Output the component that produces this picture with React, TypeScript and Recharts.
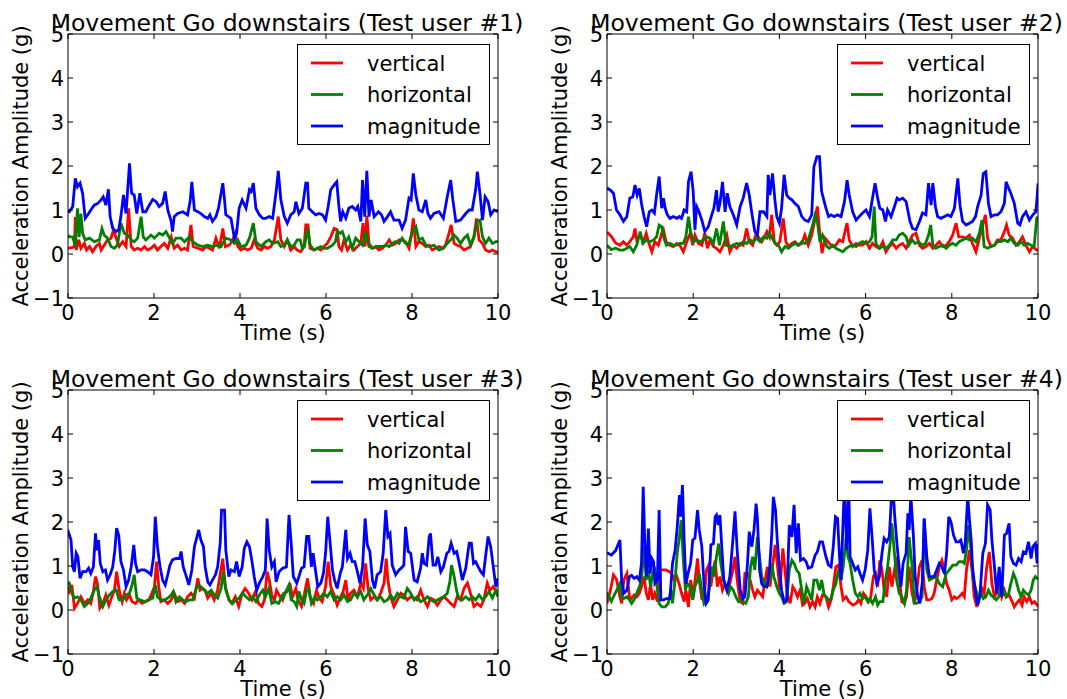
import React from 'react';
import { LineChart, Line, XAxis, YAxis } from 'recharts';

type P = [number, number];

const timeTicks = [0, 2, 4, 6, 8, 10];
const ampTicks = [-1, 0, 1, 2, 3, 4, 5];
const seriesNames = ['vertical', 'horizontal', 'magnitude'];
const seriesColors = ['#ff0000', '#008000', '#0000ff'];
const panelTitles = [
  'Movement Go downstairs (Test user #1)',
  'Movement Go downstairs (Test user #2)',
  'Movement Go downstairs (Test user #3)',
  'Movement Go downstairs (Test user #4)',
];
const xLabel = 'Time (s)';
const yLabel = 'Acceleration Amplitude (g)';

// ---------- Test user #1 ----------
const u1Vertical: P[] = [[0,0.13],[0.11,0.15],[0.15,0.17],[0.17,0.84],[0.19,0.09],[0.25,0.32],[0.30,0.13],[0.38,0.24],[0.43,0.09],[0.50,0.17],[0.57,0.05],[0.65,0.17],[0.73,0.24],[0.77,0.09],[0.84,0.2],[0.92,0.32],[1.00,0.36],[1.06,0.55],[1.12,0.36],[1.19,0.17],[1.27,0.28],[1.35,0.17],[1.41,1.04],[1.47,0.17],[1.54,0.09],[1.62,0.13],[1.70,0.09],[1.78,0.17],[1.85,0.09],[1.93,0.13],[2.01,0.2],[2.08,0.09],[2.16,0.17],[2.24,0.24],[2.32,0.13],[2.40,0.39],[2.47,0.13],[2.55,0.2],[2.63,0.09],[2.71,0.13],[2.78,0.09],[2.86,0.66],[2.91,0.17],[3.02,0.13],[3.13,0.09],[3.21,0.17],[3.29,0.13],[3.36,0.09],[3.44,0.36],[3.52,0.13],[3.60,0.58],[3.66,0.17],[3.75,0.2],[3.83,0.32],[3.89,0.47],[3.95,0.17],[4.02,0.09],[4.10,0.13],[4.18,0.09],[4.26,0.13],[4.33,0.32],[4.41,0.13],[4.49,0.09],[4.57,0.17],[4.64,0.13],[4.72,0.17],[4.80,0.32],[4.89,0.85],[4.95,0.32],[5.03,0.17],[5.10,0.32],[5.18,0.09],[5.26,0.17],[5.33,0.09],[5.41,0.05],[5.49,0.17],[5.53,0.66],[5.58,0.66],[5.63,0.13],[5.72,0.09],[5.80,0.13],[5.88,0.09],[5.95,0.17],[6.03,0.24],[6.11,0.39],[6.19,0.58],[6.26,0.55],[6.30,0.17],[6.36,0.09],[6.42,0.32],[6.50,0.09],[6.57,0.2],[6.65,0.09],[6.73,0.17],[6.81,0.24],[6.86,0.70],[6.91,0.17],[6.95,0.87],[7.00,0.24],[7.08,0.13],[7.16,0.17],[7.23,0.09],[7.31,0.13],[7.39,0.2],[7.47,0.32],[7.54,0.2],[7.62,0.24],[7.70,0.32],[7.77,0.32],[7.85,0.28],[7.93,0.13],[7.98,0.39],[8.03,0.81],[8.09,0.17],[8.16,0.28],[8.24,0.24],[8.32,0.17],[8.40,0.2],[8.47,0.09],[8.55,0.13],[8.63,0.17],[8.71,0.13],[8.78,0.2],[8.86,0.47],[8.91,0.66],[8.98,0.24],[9.05,0.2],[9.13,0.17],[9.21,0.09],[9.29,0.13],[9.36,0.17],[9.44,0.39],[9.50,0.81],[9.56,0.32],[9.64,0.24],[9.71,0.09],[9.79,0.05],[9.87,0.09],[9.95,0.05],[10,0.05]];
const u1Horizontal: P[] = [[0,0.43],[0.03,0.39],[0.11,0.39],[0.17,0.17],[0.22,1.04],[0.26,0.39],[0.30,0.92],[0.34,0.47],[0.40,0.32],[0.50,0.36],[0.61,0.28],[0.73,0.32],[0.79,0.58],[0.84,0.43],[0.92,0.36],[1.00,0.17],[1.08,0.13],[1.15,0.2],[1.23,0.70],[1.31,0.47],[1.39,0.43],[1.47,0.32],[1.54,0.28],[1.62,0.36],[1.70,0.85],[1.75,0.39],[1.81,0.32],[1.93,0.43],[2.01,0.36],[2.12,0.47],[2.20,0.43],[2.28,0.51],[2.36,0.36],[2.43,0.24],[2.51,0.36],[2.63,0.36],[2.71,0.28],[2.82,0.39],[2.90,0.28],[3.02,0.2],[3.13,0.17],[3.25,0.2],[3.36,0.17],[3.48,0.2],[3.56,0.17],[3.67,0.36],[3.79,0.32],[3.87,0.24],[3.95,0.32],[4.02,0.17],[4.14,0.2],[4.22,0.36],[4.31,0.70],[4.37,0.28],[4.49,0.17],[4.60,0.28],[4.68,0.32],[4.76,0.24],[4.88,0.28],[4.95,0.17],[5.03,0.2],[5.10,0.32],[5.18,0.17],[5.26,0.2],[5.33,0.32],[5.40,0.32],[5.45,0.13],[5.50,0.17],[5.57,0.58],[5.63,0.2],[5.72,0.09],[5.80,0.13],[5.88,0.17],[5.95,0.13],[6.03,0.13],[6.15,0.2],[6.22,0.28],[6.26,0.51],[6.33,0.47],[6.38,0.51],[6.46,0.28],[6.53,0.39],[6.61,0.13],[6.69,0.36],[6.77,0.28],[6.85,0.2],[6.92,0.51],[7.00,0.17],[7.08,0.13],[7.19,0.17],[7.31,0.17],[7.39,0.2],[7.47,0.17],[7.54,0.24],[7.62,0.28],[7.70,0.24],[7.77,0.36],[7.85,0.24],[7.93,0.24],[8.01,0.51],[8.09,0.62],[8.16,0.32],[8.24,0.36],[8.32,0.2],[8.40,0.17],[8.51,0.2],[8.63,0.09],[8.73,0.13],[8.82,0.24],[8.90,0.32],[8.98,0.43],[9.05,0.36],[9.13,0.24],[9.21,0.36],[9.29,0.43],[9.36,0.2],[9.44,0.39],[9.52,0.74],[9.58,0.77],[9.64,0.39],[9.71,0.24],[9.79,0.36],[9.87,0.24],[9.95,0.28],[10,0.28]];
const u1Magnitude: P[] = [[0,0.96],[0.03,0.96],[0.11,1.08],[0.17,1.72],[0.22,1.53],[0.28,1.61],[0.34,1.38],[0.40,0.81],[0.46,0.89],[0.53,1.00],[0.61,1.11],[0.69,1.15],[0.77,1.23],[0.82,1.30],[0.88,1.11],[0.94,1.47],[0.98,0.85],[1.04,0.58],[1.12,0.51],[1.18,0.55],[1.23,0.85],[1.29,1.34],[1.35,0.92],[1.43,2.06],[1.48,1.38],[1.54,1.34],[1.60,0.92],[1.67,1.38],[1.74,0.96],[1.81,0.96],[1.89,1.11],[1.97,1.24],[2.05,1.19],[2.12,1.08],[2.20,1.15],[2.26,1.42],[2.32,1.00],[2.40,0.74],[2.43,0.51],[2.47,0.85],[2.55,0.92],[2.67,0.96],[2.78,0.89],[2.84,1.19],[2.88,1.64],[2.94,1.00],[3.02,0.96],[3.09,0.92],[3.17,0.85],[3.25,0.81],[3.30,0.89],[3.36,0.74],[3.44,0.85],[3.50,1.04],[3.56,1.38],[3.60,1.61],[3.64,1.23],[3.67,0.89],[3.79,0.81],[3.87,0.36],[3.92,0.47],[3.98,1.04],[4.05,1.23],[4.14,1.04],[4.22,1.46],[4.26,1.42],[4.31,1.61],[4.37,1.04],[4.45,0.89],[4.53,0.81],[4.60,0.81],[4.68,0.85],[4.76,0.81],[4.84,1.42],[4.89,1.89],[4.95,1.23],[5.03,0.85],[5.10,0.70],[5.18,0.89],[5.26,0.96],[5.30,1.19],[5.37,0.92],[5.45,1.04],[5.53,1.61],[5.57,1.61],[5.60,1.04],[5.68,0.96],[5.76,0.89],[5.84,0.92],[5.92,0.89],[5.99,0.77],[6.05,1.08],[6.11,1.46],[6.19,1.57],[6.25,1.64],[6.30,1.08],[6.34,0.74],[6.39,0.96],[6.46,0.81],[6.53,1.04],[6.61,1.08],[6.69,1.00],[6.74,1.08],[6.81,0.74],[6.85,1.68],[6.90,0.85],[6.95,1.89],[7.00,0.85],[7.05,1.23],[7.12,0.85],[7.22,0.96],[7.29,0.89],[7.35,0.74],[7.43,0.85],[7.50,0.96],[7.58,0.77],[7.70,0.77],[7.77,0.58],[7.85,0.77],[7.93,1.27],[7.98,1.23],[8.03,1.83],[8.09,1.34],[8.16,1.00],[8.24,0.96],[8.32,1.23],[8.37,0.92],[8.43,0.81],[8.51,0.92],[8.63,0.96],[8.73,0.81],[8.82,1.30],[8.90,1.68],[8.95,1.23],[9.02,0.74],[9.13,0.77],[9.25,0.92],[9.33,1.00],[9.40,1.00],[9.48,1.46],[9.52,1.87],[9.58,1.38],[9.64,0.77],[9.70,1.30],[9.77,1.19],[9.83,0.89],[9.91,1.00],[10,0.96]];

// ---------- Test user #2 ----------
const u2Vertical: P[] = [[0,0.5],[0.1,0.4],[0.2,0.25],[0.30,0.20],[0.38,0.28],[0.46,0.20],[0.53,0.28],[0.61,0.39],[0.65,0.58],[0.69,0.32],[0.77,0.43],[0.84,0.28],[0.91,0.47],[0.96,0.28],[1.04,0.05],[1.11,0.28],[1.19,0.20],[1.27,0.47],[1.31,0.55],[1.37,0.28],[1.46,0.20],[1.54,0.17],[1.62,0.24],[1.69,0.20],[1.77,0.05],[1.85,0.28],[1.93,0.47],[1.99,0.20],[2.04,0.43],[2.12,0.24],[2.20,0.20],[2.27,0.47],[2.33,0.13],[2.39,0.32],[2.47,0.17],[2.54,0.13],[2.62,0.05],[2.70,0.20],[2.78,0.43],[2.85,0.05],[2.93,0.20],[3.01,0.13],[3.09,0.24],[3.16,0.20],[3.24,0.58],[3.30,0.28],[3.38,0.20],[3.46,0.47],[3.51,0.39],[3.59,0.28],[3.64,0.36],[3.71,0.51],[3.77,0.39],[3.82,0.89],[3.88,0.28],[3.94,0.20],[4.01,0.28],[4.09,0.81],[4.15,0.28],[4.21,0.17],[4.29,0.24],[4.36,0.28],[4.44,0.20],[4.52,0.24],[4.59,0.43],[4.67,0.20],[4.75,0.43],[4.83,0.81],[4.88,1.08],[4.94,0.43],[4.99,0.02],[5.06,0.36],[5.16,0.24],[5.24,0.17],[5.31,0.20],[5.39,0.32],[5.47,0.28],[5.53,0.55],[5.57,0.70],[5.62,0.32],[5.70,0.17],[5.78,0.24],[5.85,0.20],[5.93,0.20],[6.01,0.28],[6.09,0.13],[6.16,0.24],[6.24,0.17],[6.32,0.13],[6.40,0.28],[6.47,0.05],[6.55,0.17],[6.63,0.24],[6.71,0.13],[6.78,0.20],[6.86,0.24],[6.94,0.13],[7.01,0.28],[7.09,0.43],[7.17,0.47],[7.25,0.20],[7.32,0.13],[7.40,0.17],[7.48,0.24],[7.56,0.13],[7.63,0.20],[7.71,0.28],[7.79,0.17],[7.87,0.20],[7.94,0.28],[8.02,0.43],[8.10,0.70],[8.16,0.39],[8.25,0.39],[8.33,0.36],[8.41,0.43],[8.48,0.24],[8.56,0.05],[8.64,0.36],[8.72,0.66],[8.78,0.89],[8.83,0.36],[8.91,0.17],[8.99,0.20],[9.06,0.32],[9.14,0.32],[9.22,0.51],[9.27,0.66],[9.33,0.43],[9.41,0.36],[9.49,0.20],[9.57,0.28],[9.64,0.39],[9.72,0.20],[9.80,0.05],[9.88,0.17],[9.97,0.09],[10,0.09]];
const u2Horizontal: P[] = [[0,0.2],[0.1,0.1],[0.2,0.13],[0.30,0.09],[0.38,0.09],[0.46,0.13],[0.53,0.17],[0.61,0.05],[0.69,0.20],[0.77,0.51],[0.83,0.24],[0.91,0.32],[1.00,0.28],[1.08,0.32],[1.15,0.39],[1.21,0.66],[1.27,0.62],[1.32,0.36],[1.38,0.20],[1.46,0.24],[1.54,0.20],[1.62,0.20],[1.69,0.24],[1.77,0.24],[1.83,0.39],[1.89,0.85],[1.94,0.51],[2.00,0.28],[2.08,0.32],[2.16,0.28],[2.24,0.32],[2.31,0.39],[2.39,0.36],[2.47,0.24],[2.54,0.58],[2.61,0.20],[2.70,0.74],[2.76,0.20],[2.84,0.17],[2.93,0.20],[3.01,0.24],[3.09,0.20],[3.16,0.28],[3.24,0.24],[3.32,0.32],[3.40,0.28],[3.47,0.36],[3.55,0.28],[3.63,0.39],[3.71,0.36],[3.77,0.47],[3.82,0.39],[3.90,0.24],[3.98,0.20],[4.05,0.05],[4.13,0.17],[4.21,0.13],[4.29,0.20],[4.36,0.24],[4.44,0.20],[4.52,0.28],[4.59,0.24],[4.67,0.32],[4.75,0.58],[4.83,0.89],[4.88,0.74],[4.94,0.28],[5.00,0.43],[5.06,0.28],[5.10,0.17],[5.16,0.13],[5.24,0.20],[5.31,0.13],[5.39,0.09],[5.47,0.05],[5.55,0.13],[5.62,0.17],[5.70,0.20],[5.78,0.17],[5.85,0.24],[5.93,0.28],[6.01,0.24],[6.09,0.28],[6.15,0.39],[6.20,1.08],[6.24,0.24],[6.32,0.13],[6.40,0.17],[6.47,0.13],[6.55,0.20],[6.63,0.32],[6.71,0.32],[6.78,0.43],[6.86,0.47],[6.94,0.39],[7.00,0.20],[7.08,0.32],[7.15,0.24],[7.23,0.28],[7.31,0.20],[7.39,0.24],[7.46,0.43],[7.51,0.66],[7.56,0.20],[7.63,0.13],[7.71,0.17],[7.79,0.20],[7.87,0.13],[7.94,0.20],[8.02,0.24],[8.10,0.20],[8.17,0.28],[8.25,0.32],[8.33,0.36],[8.41,0.32],[8.48,0.36],[8.56,0.28],[8.64,0.47],[8.70,0.77],[8.75,0.17],[8.83,0.13],[8.91,0.17],[8.99,0.20],[9.06,0.28],[9.14,0.28],[9.22,0.32],[9.30,0.28],[9.37,0.36],[9.45,0.24],[9.53,0.20],[9.61,0.28],[9.68,0.20],[9.76,0.24],[9.84,0.20],[9.91,0.17],[9.97,0.81],[10,0.85]];
const u2Magnitude: P[] = [[0,1.5],[0.08,1.45],[0.15,1.38],[0.22,1.0],[0.30,0.89],[0.38,0.74],[0.46,0.85],[0.53,1.27],[0.60,1.30],[0.65,1.57],[0.70,1.34],[0.75,1.49],[0.80,1.15],[0.86,0.85],[0.92,0.62],[0.98,0.96],[1.04,1.00],[1.10,0.93],[1.15,1.34],[1.21,1.76],[1.27,1.04],[1.31,1.27],[1.35,1.04],[1.40,0.89],[1.46,0.81],[1.54,0.85],[1.62,0.81],[1.68,0.85],[1.73,0.81],[1.79,1.00],[1.85,0.96],[1.89,1.64],[1.95,1.87],[2.00,1.42],[2.04,0.55],[2.08,1.08],[2.12,1.00],[2.20,0.77],[2.27,0.51],[2.35,0.62],[2.43,0.89],[2.48,1.04],[2.54,1.45],[2.58,0.96],[2.62,1.15],[2.68,1.64],[2.74,0.96],[2.79,1.38],[2.85,1.08],[2.93,0.89],[3.01,0.66],[3.09,1.08],[3.16,1.27],[3.24,1.61],[3.30,1.34],[3.36,0.93],[3.43,0.51],[3.49,0.43],[3.55,0.96],[3.63,0.96],[3.71,0.85],[3.74,1.80],[3.78,1.34],[3.84,1.83],[3.90,1.19],[3.94,0.85],[4.00,0.70],[4.05,1.04],[4.11,1.80],[4.17,1.34],[4.23,1.27],[4.29,1.23],[4.36,1.15],[4.44,1.08],[4.52,0.85],[4.59,0.77],[4.67,0.74],[4.75,0.89],[4.80,1.98],[4.87,2.21],[4.93,2.21],[4.98,1.42],[5.04,1.19],[5.08,1.04],[5.14,0.85],[5.20,0.89],[5.27,0.85],[5.35,0.89],[5.43,0.85],[5.51,1.19],[5.57,1.68],[5.62,1.34],[5.70,0.96],[5.78,0.77],[5.85,0.85],[5.93,0.93],[6.01,1.00],[6.09,0.85],[6.16,1.27],[6.22,1.61],[6.28,1.27],[6.33,1.04],[6.40,1.00],[6.46,0.74],[6.51,1.00],[6.59,0.85],[6.67,1.08],[6.73,1.27],[6.78,1.23],[6.86,1.27],[6.94,1.19],[6.97,1.04],[7.03,0.74],[7.09,0.58],[7.17,0.55],[7.25,0.74],[7.32,0.93],[7.40,0.89],[7.46,1.61],[7.52,1.11],[7.56,1.61],[7.62,1.08],[7.67,0.85],[7.75,0.81],[7.83,0.85],[7.90,0.89],[7.98,0.85],[8.06,1.04],[8.14,1.72],[8.19,1.11],[8.25,0.74],[8.33,0.66],[8.41,0.70],[8.48,0.74],[8.55,0.85],[8.60,1.08],[8.68,1.34],[8.73,1.83],[8.79,1.87],[8.85,1.15],[8.91,0.85],[8.99,0.89],[9.06,0.89],[9.14,0.96],[9.22,1.15],[9.26,1.64],[9.32,1.49],[9.37,1.38],[9.45,1.15],[9.53,0.70],[9.58,0.66],[9.64,0.85],[9.72,0.96],[9.80,0.77],[9.88,0.89],[9.95,0.96],[9.98,1.3],[10,1.6]];

// ---------- Test user #3 ----------
const u3Vertical: P[] = [[0,0.53],[0.03,0.42],[0.09,0.57],[0.15,0.04],[0.22,0.15],[0.30,0.30],[0.38,0.15],[0.46,0.23],[0.53,0.15],[0.59,0.42],[0.64,0.76],[0.69,0.57],[0.74,0.04],[0.81,0.15],[0.88,0.34],[0.95,0.11],[1.02,0.30],[1.08,0.45],[1.13,0.87],[1.19,0.45],[1.26,0.19],[1.31,0.38],[1.36,0.23],[1.43,0.34],[1.49,0.19],[1.57,0.15],[1.64,0.23],[1.72,0.15],[1.80,0.19],[1.88,0.23],[1.95,0.38],[2.01,0.53],[2.06,1.10],[2.11,0.53],[2.16,0.19],[2.24,0.23],[2.32,0.15],[2.40,0.23],[2.47,0.38],[2.55,0.19],[2.63,0.23],[2.71,0.15],[2.78,0.30],[2.86,0.38],[2.94,0.27],[3.02,0.72],[3.07,0.45],[3.13,0.49],[3.19,0.45],[3.25,0.27],[3.33,0.38],[3.40,0.23],[3.48,0.45],[3.53,0.76],[3.60,1.17],[3.66,0.53],[3.74,0.23],[3.81,0.15],[3.89,0.30],[3.97,0.08],[4.05,0.38],[4.12,0.49],[4.20,0.38],[4.28,0.23],[4.36,0.42],[4.43,0.15],[4.51,0.08],[4.57,0.23],[4.63,0.87],[4.68,0.68],[4.74,0.34],[4.80,0.23],[4.85,0.45],[4.91,0.34],[4.99,0.23],[5.02,0.38],[5.10,0.42],[5.16,0.61],[5.22,0.30],[5.30,0.49],[5.35,0.23],[5.43,0.08],[5.50,0.38],[5.57,0.72],[5.63,0.30],[5.71,0.15],[5.78,0.45],[5.84,0.27],[5.91,0.19],[5.99,0.53],[6.05,1.10],[6.11,0.53],[6.19,0.34],[6.26,0.11],[6.34,0.30],[6.40,0.42],[6.46,0.68],[6.51,0.23],[6.57,0.38],[6.65,0.45],[6.73,0.30],[6.81,0.61],[6.87,0.49],[6.92,1.06],[6.98,0.49],[7.04,0.23],[7.12,0.30],[7.19,0.23],[7.27,0.38],[7.35,0.61],[7.40,1.17],[7.44,0.68],[7.50,0.30],[7.58,0.08],[7.66,0.23],[7.74,0.38],[7.81,0.34],[7.89,0.23],[7.97,0.30],[8.05,0.27],[8.12,0.23],[8.20,0.45],[8.28,0.23],[8.36,0.08],[8.43,0.27],[8.51,0.23],[8.59,0.11],[8.67,0.23],[8.74,0.30],[8.82,0.23],[8.90,0.15],[8.98,0.08],[9.05,0.30],[9.13,0.23],[9.21,0.49],[9.29,0.61],[9.36,0.38],[9.44,0.08],[9.52,0.15],[9.60,0.08],[9.67,0.23],[9.75,0.61],[9.81,0.45],[9.89,0.53],[9.97,0.38],[10,0.45]];
const u3Horizontal: P[] = [[0,0.64],[0.03,0.61],[0.09,0.38],[0.15,0.27],[0.22,0.30],[0.30,0.23],[0.38,0.08],[0.46,0.15],[0.53,0.27],[0.61,0.45],[0.67,0.53],[0.73,0.30],[0.81,0.08],[0.88,0.23],[0.96,0.34],[1.04,0.42],[1.12,0.45],[1.19,0.23],[1.27,0.23],[1.35,0.34],[1.43,0.38],[1.49,0.57],[1.54,0.80],[1.60,0.27],[1.67,0.23],[1.78,0.19],[1.88,0.23],[1.97,0.27],[2.03,0.57],[2.08,0.30],[2.16,0.23],[2.24,0.23],[2.32,0.27],[2.40,0.34],[2.45,0.42],[2.51,0.19],[2.59,0.30],[2.67,0.23],[2.74,0.19],[2.82,0.23],[2.90,0.23],[2.98,0.49],[3.04,0.57],[3.09,0.53],[3.17,0.45],[3.25,0.38],[3.33,0.45],[3.40,0.34],[3.48,0.27],[3.56,0.49],[3.61,0.87],[3.67,0.45],[3.75,0.23],[3.83,0.15],[3.91,0.23],[3.98,0.27],[4.06,0.38],[4.14,0.30],[4.22,0.23],[4.29,0.30],[4.37,0.19],[4.45,0.34],[4.53,0.45],[4.59,0.30],[4.67,0.49],[4.74,0.15],[4.82,0.19],[4.90,0.15],[4.99,0.34],[5.02,0.30],[5.08,0.45],[5.14,0.57],[5.19,0.23],[5.26,0.19],[5.32,0.08],[5.37,0.42],[5.43,0.23],[5.49,0.15],[5.55,0.45],[5.60,0.49],[5.66,0.15],[5.74,0.30],[5.80,0.23],[5.88,0.30],[5.95,0.38],[6.03,0.30],[6.11,0.42],[6.19,0.23],[6.26,0.30],[6.34,0.23],[6.42,0.34],[6.50,0.19],[6.57,0.23],[6.65,0.38],[6.73,0.30],[6.81,0.42],[6.88,0.23],[6.96,0.34],[7.04,0.49],[7.12,0.34],[7.19,0.23],[7.27,0.30],[7.35,0.19],[7.43,0.23],[7.50,0.34],[7.58,0.23],[7.66,0.38],[7.74,0.30],[7.81,0.27],[7.89,0.49],[7.97,0.38],[8.05,0.23],[8.12,0.30],[8.20,0.19],[8.28,0.23],[8.36,0.30],[8.43,0.23],[8.51,0.19],[8.59,0.23],[8.67,0.27],[8.74,0.30],[8.82,0.38],[8.88,0.64],[8.92,1.02],[8.98,0.76],[9.04,0.42],[9.09,0.27],[9.17,0.23],[9.25,0.30],[9.33,0.23],[9.40,0.30],[9.48,0.23],[9.56,0.34],[9.64,0.23],[9.71,0.30],[9.79,0.42],[9.87,0.27],[9.95,0.45],[10,0.3]];
const u3Magnitude: P[] = [[0,1.67],[0.02,1.74],[0.07,1.59],[0.11,0.98],[0.15,0.87],[0.19,1.29],[0.23,1.21],[0.28,0.72],[0.34,0.87],[0.42,0.87],[0.48,0.95],[0.53,0.83],[0.59,0.98],[0.64,1.74],[0.67,1.36],[0.71,1.59],[0.75,1.06],[0.81,0.87],[0.87,0.91],[0.92,0.68],[0.98,0.80],[1.04,0.98],[1.09,1.36],[1.13,1.86],[1.18,1.70],[1.23,1.10],[1.29,0.91],[1.35,0.53],[1.41,0.68],[1.47,0.98],[1.53,1.48],[1.57,1.06],[1.62,0.87],[1.70,0.91],[1.78,0.91],[1.85,0.87],[1.93,0.80],[1.99,1.21],[2.03,2.12],[2.08,1.44],[2.14,0.98],[2.20,0.68],[2.26,0.57],[2.32,0.80],[2.37,1.02],[2.43,1.14],[2.51,1.17],[2.59,1.17],[2.63,1.33],[2.68,0.98],[2.74,0.80],[2.81,0.57],[2.88,0.91],[2.94,1.44],[2.99,1.63],[3.04,1.82],[3.09,1.59],[3.15,1.44],[3.19,0.98],[3.25,0.64],[3.30,0.57],[3.36,0.68],[3.43,0.80],[3.48,0.98],[3.54,1.52],[3.57,2.27],[3.64,2.27],[3.67,1.36],[3.74,0.76],[3.79,0.91],[3.87,0.87],[3.92,1.10],[3.98,0.76],[4.05,0.98],[4.10,1.40],[4.16,1.55],[4.22,1.44],[4.28,1.10],[4.33,0.76],[4.39,0.45],[4.45,0.61],[4.53,0.76],[4.59,0.91],[4.63,2.08],[4.68,1.36],[4.74,0.98],[4.80,1.10],[4.84,0.64],[4.91,0.87],[4.99,0.95],[5.08,0.98],[5.14,2.16],[5.19,1.52],[5.24,0.76],[5.32,0.61],[5.37,0.76],[5.43,0.95],[5.49,0.98],[5.55,1.67],[5.60,1.67],[5.66,0.98],[5.70,1.29],[5.76,0.87],[5.81,0.53],[5.88,0.61],[5.94,0.83],[5.99,1.29],[6.04,2.12],[6.09,1.59],[6.15,0.91],[6.20,0.68],[6.26,0.49],[6.33,0.83],[6.38,0.98],[6.46,1.82],[6.50,1.17],[6.56,1.29],[6.61,1.10],[6.67,1.10],[6.73,0.87],[6.79,0.61],[6.85,0.98],[6.91,2.08],[6.96,1.48],[7.02,1.33],[7.08,0.68],[7.13,0.49],[7.19,0.80],[7.27,0.87],[7.33,1.29],[7.39,2.27],[7.44,1.67],[7.49,1.74],[7.54,1.02],[7.62,0.80],[7.70,0.91],[7.75,0.95],[7.81,1.02],[7.85,1.89],[7.91,1.33],[7.97,1.29],[8.05,0.68],[8.12,0.64],[8.20,0.95],[8.24,1.29],[8.28,1.06],[8.34,1.02],[8.40,1.67],[8.43,1.74],[8.49,1.02],[8.55,1.02],[8.60,1.21],[8.67,0.87],[8.73,0.98],[8.81,1.29],[8.86,1.33],[8.91,1.52],[8.98,1.29],[9.04,1.33],[9.09,1.10],[9.17,0.68],[9.25,0.95],[9.33,1.52],[9.38,1.52],[9.43,1.06],[9.48,1.10],[9.54,0.98],[9.60,0.87],[9.66,0.80],[9.71,1.21],[9.77,1.67],[9.83,1.44],[9.89,0.98],[9.95,0.53],[10,0.72]];

// ---------- Test user #4 ----------
const u4Vertical: P[] = [[0,0.15],[0.08,0.45],[0.15,0.8],[0.22,0.7],[0.30,0.30],[0.34,0.15],[0.39,0.68],[0.46,0.83],[0.52,0.30],[0.57,0.26],[0.63,0.34],[0.69,0.30],[0.75,0.38],[0.80,0.53],[0.86,0.76],[0.91,0.38],[0.96,0.23],[1.01,0.60],[1.06,0.23],[1.11,0.38],[1.17,0.19],[1.23,0.91],[1.29,0.91],[1.37,0.91],[1.45,0.87],[1.50,0.83],[1.56,0.68],[1.62,0.76],[1.68,0.57],[1.73,0.38],[1.79,0.19],[1.83,0.45],[1.89,0.07],[1.94,0.68],[2.00,0.30],[2.07,0.91],[2.10,1.17],[2.14,0.68],[2.20,0.26],[2.25,0.23],[2.31,0.91],[2.36,1.02],[2.41,0.53],[2.45,0.83],[2.51,1.13],[2.56,0.53],[2.62,0.76],[2.68,0.45],[2.74,0.60],[2.79,0.49],[2.85,0.60],[2.92,0.91],[2.97,1.21],[3.02,0.68],[3.09,0.19],[3.15,0.15],[3.20,0.83],[3.26,0.83],[3.32,0.68],[3.38,0.45],[3.43,0.30],[3.49,0.45],[3.55,0.38],[3.61,0.30],[3.67,0.68],[3.72,0.98],[3.78,0.53],[3.84,0.98],[3.90,1.48],[3.95,1.06],[4.01,0.45],[4.08,1.40],[4.13,0.91],[4.18,0.38],[4.25,0.15],[4.31,0.53],[4.36,0.45],[4.42,0.30],[4.48,0.45],[4.54,0.11],[4.59,0.15],[4.65,0.26],[4.71,0.07],[4.77,0.19],[4.83,0.07],[4.88,0.30],[4.94,0.15],[5.00,0.34],[5.08,0.30],[5.14,0.07],[5.20,0.23],[5.25,0.53],[5.31,0.98],[5.37,1.02],[5.43,0.53],[5.48,0.23],[5.55,0.30],[5.61,0.19],[5.66,0.15],[5.71,0.11],[5.78,0.15],[5.84,0.23],[5.89,0.15],[5.95,0.38],[6.01,0.30],[6.07,0.19],[6.12,0.30],[6.18,0.76],[6.23,0.83],[6.28,0.53],[6.33,1.13],[6.38,0.91],[6.43,0.45],[6.49,0.30],[6.55,0.98],[6.61,0.53],[6.67,0.91],[6.72,1.21],[6.78,0.76],[6.84,0.19],[6.90,0.15],[6.95,0.30],[7.01,0.98],[7.08,0.38],[7.13,0.15],[7.18,0.38],[7.25,0.98],[7.31,1.13],[7.36,0.53],[7.42,0.23],[7.48,0.23],[7.54,0.26],[7.59,0.38],[7.65,0.68],[7.71,0.98],[7.77,1.13],[7.83,0.91],[7.88,0.60],[7.94,0.45],[8.00,0.23],[8.06,0.30],[8.11,0.26],[8.17,0.30],[8.24,0.38],[8.29,0.30],[8.34,0.91],[8.41,1.36],[8.47,0.91],[8.52,0.30],[8.58,0.07],[8.64,0.30],[8.70,0.49],[8.75,0.38],[8.81,0.98],[8.87,1.32],[8.93,0.60],[8.99,0.30],[9.04,0.38],[9.10,0.68],[9.16,0.30],[9.22,0.45],[9.27,0.30],[9.33,0.34],[9.40,0.19],[9.45,0.07],[9.50,0.15],[9.57,0.23],[9.63,0.11],[9.68,0.30],[9.74,0.19],[9.80,0.30],[9.86,0.15],[9.92,0.19],[9.98,0.11],[10,0.15]];
const u4Horizontal: P[] = [[0,0.4],[0.1,0.2],[0.2,0.4],[0.30,0.60],[0.34,0.30],[0.39,0.26],[0.46,0.30],[0.52,0.23],[0.57,0.15],[0.63,0.23],[0.69,0.38],[0.75,0.53],[0.80,0.68],[0.86,1.44],[0.91,0.68],[0.96,0.91],[1.01,0.53],[1.06,0.83],[1.11,0.98],[1.17,0.45],[1.21,0.15],[1.27,0.07],[1.35,0.07],[1.42,0.15],[1.48,0.45],[1.52,0.15],[1.58,0.68],[1.63,1.29],[1.68,1.66],[1.72,2.04],[1.77,1.13],[1.82,0.45],[1.86,0.60],[1.93,0.53],[1.99,0.23],[2.04,0.53],[2.10,0.68],[2.14,0.83],[2.20,0.45],[2.25,0.15],[2.31,0.23],[2.37,0.45],[2.43,0.98],[2.48,0.76],[2.54,1.21],[2.59,1.51],[2.64,1.06],[2.70,0.68],[2.76,0.53],[2.82,0.38],[2.87,0.53],[2.93,0.45],[2.99,0.30],[3.05,0.19],[3.10,0.23],[3.16,0.19],[3.22,0.15],[3.28,0.30],[3.33,0.98],[3.38,1.21],[3.43,0.91],[3.49,1.66],[3.54,1.21],[3.59,0.76],[3.64,0.64],[3.71,0.53],[3.77,0.68],[3.82,1.06],[3.87,0.76],[3.94,0.53],[4.00,0.38],[4.05,0.30],[4.11,0.15],[4.17,0.19],[4.23,0.91],[4.29,1.13],[4.34,1.06],[4.40,0.91],[4.46,0.83],[4.52,0.45],[4.57,0.15],[4.63,0.53],[4.69,0.38],[4.75,0.23],[4.80,0.68],[4.87,0.68],[4.93,0.45],[4.98,0.68],[5.04,0.34],[5.08,0.30],[5.14,0.23],[5.20,0.26],[5.25,0.45],[5.31,0.60],[5.37,0.91],[5.43,0.68],[5.48,0.98],[5.55,1.66],[5.59,1.21],[5.64,1.06],[5.70,0.68],[5.76,0.38],[5.82,0.30],[5.87,0.38],[5.93,0.26],[5.99,0.30],[6.05,0.19],[6.10,0.26],[6.16,0.15],[6.23,0.30],[6.28,0.11],[6.33,0.19],[6.40,0.19],[6.46,0.68],[6.51,0.98],[6.57,1.51],[6.61,1.97],[6.67,1.29],[6.72,0.68],[6.78,0.38],[6.84,0.30],[6.90,0.15],[6.95,0.45],[7.01,1.66],[7.08,0.98],[7.13,0.15],[7.18,0.15],[7.25,0.19],[7.31,0.30],[7.36,2.08],[7.42,0.91],[7.48,0.68],[7.56,0.72],[7.63,0.76],[7.71,0.60],[7.79,0.53],[7.87,0.83],[7.94,0.91],[8.02,1.02],[8.10,1.02],[8.17,1.10],[8.24,1.10],[8.29,1.06],[8.34,1.36],[8.39,1.93],[8.45,1.29],[8.50,0.68],[8.56,0.45],[8.62,0.30],[8.68,0.38],[8.73,0.26],[8.79,0.30],[8.85,0.45],[8.91,0.34],[8.96,0.30],[9.03,0.23],[9.09,0.30],[9.14,0.60],[9.20,0.45],[9.26,0.30],[9.32,0.38],[9.37,0.60],[9.43,0.83],[9.49,0.68],[9.55,0.45],[9.61,0.30],[9.66,0.45],[9.72,0.38],[9.78,0.34],[9.84,0.45],[9.89,0.68],[9.94,0.76],[9.98,0.72],[10,0.7]];
const u4Magnitude: P[] = [[0,1.3],[0.1,1.25],[0.2,1.35],[0.30,1.59],[0.34,0.68],[0.39,0.38],[0.46,0.45],[0.52,0.76],[0.57,0.79],[0.63,0.72],[0.69,0.76],[0.75,0.68],[0.80,1.06],[0.84,2.80],[0.88,1.44],[0.92,0.76],[0.96,1.85],[1.00,0.83],[1.04,1.17],[1.08,1.10],[1.11,0.60],[1.17,0.68],[1.21,2.27],[1.25,0.23],[1.31,0.23],[1.38,0.26],[1.46,0.26],[1.52,1.06],[1.58,1.36],[1.63,1.89],[1.68,2.61],[1.71,2.12],[1.75,2.84],[1.79,1.59],[1.83,0.60],[1.89,0.87],[1.94,1.06],[1.99,1.59],[2.04,1.63],[2.10,2.27],[2.14,1.82],[2.20,1.44],[2.25,0.60],[2.30,0.15],[2.35,0.23],[2.41,1.48],[2.47,1.51],[2.51,2.12],[2.54,2.16],[2.58,1.93],[2.62,2.16],[2.66,1.48],[2.71,0.68],[2.78,0.45],[2.85,0.76],[2.92,1.59],[2.97,2.24],[3.02,1.36],[3.09,0.45],[3.15,0.26],[3.20,0.30],[3.26,1.06],[3.30,1.78],[3.36,1.44],[3.41,1.82],[3.46,2.42],[3.49,2.08],[3.54,0.91],[3.59,0.60],[3.64,0.53],[3.71,0.53],[3.77,0.91],[3.82,1.66],[3.86,2.57],[3.91,2.27],[3.95,1.59],[4.00,0.98],[4.05,0.45],[4.11,0.19],[4.17,0.23],[4.23,1.93],[4.29,1.66],[4.34,2.39],[4.39,1.29],[4.44,1.97],[4.49,1.13],[4.56,1.17],[4.62,1.10],[4.67,0.95],[4.75,0.98],[4.83,1.25],[4.88,1.32],[4.94,1.55],[5.00,1.55],[5.06,1.29],[5.08,1.21],[5.14,1.02],[5.20,0.98],[5.25,1.44],[5.30,2.12],[5.35,2.08],[5.39,1.29],[5.43,0.68],[5.47,1.82],[5.51,2.9],[5.56,1.36],[5.61,2.8],[5.64,1.21],[5.70,1.06],[5.76,0.91],[5.82,0.98],[5.87,0.83],[5.93,0.68],[5.99,0.91],[6.05,1.36],[6.10,2.31],[6.15,1.66],[6.20,0.91],[6.26,0.60],[6.32,0.76],[6.38,1.29],[6.43,1.63],[6.49,1.55],[6.55,1.66],[6.60,2.57],[6.63,2.9],[6.67,2.20],[6.72,1.59],[6.77,1.06],[6.82,0.53],[6.87,1.06],[6.94,1.29],[6.98,2.20],[7.01,1.82],[7.05,2.6],[7.11,1.66],[7.15,0.76],[7.21,0.30],[7.26,0.15],[7.32,0.68],[7.36,2.08],[7.42,1.21],[7.48,0.76],[7.54,0.76],[7.59,0.76],[7.65,0.91],[7.71,1.06],[7.77,0.98],[7.83,0.83],[7.88,1.29],[7.93,2.12],[7.98,2.01],[8.04,1.70],[8.10,1.55],[8.16,1.55],[8.21,1.59],[8.27,1.29],[8.31,1.51],[8.37,2.6],[8.41,2.04],[8.45,1.59],[8.48,0.98],[8.55,0.38],[8.60,0.11],[8.65,0.30],[8.72,1.29],[8.78,1.51],[8.83,2.39],[8.89,2.27],[8.93,1.59],[8.99,0.98],[9.04,0.38],[9.10,0.98],[9.16,0.30],[9.22,1.70],[9.27,1.74],[9.33,1.97],[9.37,1.21],[9.43,1.06],[9.49,1.02],[9.55,1.17],[9.61,1.10],[9.66,1.32],[9.72,1.29],[9.78,1.55],[9.84,1.17],[9.88,1.44],[9.94,1.51],[9.98,1.06],[10,1.5]];

const panelSeries: P[][][] = [
  [u1Vertical, u1Horizontal, u1Magnitude],
  [u2Vertical, u2Horizontal, u2Magnitude],
  [u3Vertical, u3Horizontal, u3Magnitude],
  [u4Vertical, u4Horizontal, u4Magnitude],
];

const toRows = (a: P[]) => a.map(([t, v]) => ({ t, v }));

const FONT = '"DejaVu Sans", "Bitstream Vera Sans", sans-serif';
const TICK_LEN = 5;
const FS = 21;
const TITLE_FS = 23.5;
const LINE_W = 2.8;

const fmt = (v: number) => (v < 0 ? '\u2212' + Math.abs(v) : String(v));

type Geo = { left: number; top: number; w: number; h: number; yW: number; rW: number; tH: number; bH: number };

const geos: Geo[] = [
  { left: 0, top: 0, w: 533, h: 349, yW: 68, rW: 35, tH: 34, bH: 51 },
  { left: 533, top: 0, w: 534, h: 349, yW: 74, rW: 29, tH: 34, bH: 51 },
  { left: 0, top: 349, w: 533, h: 350, yW: 68, rW: 35, tH: 41, bH: 45 },
  { left: 533, top: 349, w: 534, h: 350, yW: 74, rW: 29, tH: 41, bH: 45 },
];

function Panel({ idx }: { idx: number }) {
  const g = geos[idx];
  const plotW = g.w - g.yW - g.rW;
  const plotH = g.h - g.tH - g.bH;
  const series = panelSeries[idx];

  const XTick = (props: any) => {
    const { x, y, payload } = props;
    return (
      <g>
        <line x1={x} x2={x} y1={y} y2={y - TICK_LEN} stroke="#000" strokeWidth={1} />
        <line x1={x} x2={x} y1={y - plotH} y2={y - plotH + TICK_LEN} stroke="#000" strokeWidth={1} />
        <text x={x} y={y + 22} textAnchor="middle" fontSize={FS} fontFamily={FONT} fill="#000">
          {fmt(payload.value)}
        </text>
      </g>
    );
  };
  const YTick = (props: any) => {
    const { x, y, payload } = props;
    return (
      <g>
        <line x1={x} x2={x + TICK_LEN} y1={y} y2={y} stroke="#000" strokeWidth={1} />
        <line x1={x + plotW - TICK_LEN} x2={x + plotW} y1={y} y2={y} stroke="#000" strokeWidth={1} />
        <text x={x - 4} y={y} dy="0.36em" textAnchor="end" fontSize={FS} fontFamily={FONT} fill="#000">
          {fmt(payload.value)}
        </text>
      </g>
    );
  };
  const titleLabel = (p: any) => {
    const vb = p.viewBox || p;
    return (
      <text x={vb.x + vb.width / 2 + 4} y={vb.y + vb.height - 3} textAnchor="middle" fontSize={TITLE_FS} fontFamily={FONT} fill="#000">
        {panelTitles[idx]}
      </text>
    );
  };
  const xLab = (p: any) => {
    const vb = p.viewBox || p;
    return (
      <text x={vb.x + vb.width / 2} y={vb.y + 42} textAnchor="middle" fontSize={FS} fontFamily={FONT} fill="#000">
        {xLabel}
      </text>
    );
  };
  const yLab = (p: any) => {
    const vb = p.viewBox || p;
    const bx = vb.x + vb.width - 40;
    const cy = vb.y + vb.height / 2;
    return (
      <text x={bx} y={cy} transform={`rotate(-90 ${bx} ${cy})`} textAnchor="middle" fontSize={FS} fontFamily={FONT} fill="#000">
        {yLabel}
      </text>
    );
  };

  const legendW = 193;
  const legendH = 101;
  const legendLeft = g.yW + plotW - 8 - legendW;
  const legendTop = g.tH + 10;

  return (
    <div style={{ position: 'absolute', left: g.left, top: g.top, width: g.w, height: g.h }}>
      <LineChart width={g.w} height={g.h} margin={{ top: 0, right: 0, bottom: 0, left: 0 }}>
        <XAxis
          xAxisId="top"
          orientation="top"
          type="number"
          domain={[0, 10]}
          height={g.tH}
          tick={false}
          tickLine={false}
          axisLine={{ stroke: '#000', strokeWidth: 1 }}
          label={titleLabel}
        />
        <XAxis
          dataKey="t"
          type="number"
          domain={[0, 10]}
          ticks={timeTicks}
          interval={0}
          height={g.bH}
          tickSize={0}
          tickMargin={0}
          tickLine={false}
          tick={<XTick />}
          axisLine={{ stroke: '#000', strokeWidth: 1 }}
          allowDataOverflow
          label={xLab}
        />
        <YAxis
          type="number"
          domain={[-1, 5]}
          ticks={ampTicks}
          interval={0}
          width={g.yW}
          tickSize={0}
          tickMargin={0}
          tickLine={false}
          tick={<YTick />}
          axisLine={{ stroke: '#000', strokeWidth: 1 }}
          allowDataOverflow
          label={yLab}
        />
        <YAxis
          yAxisId="right"
          orientation="right"
          type="number"
          domain={[-1, 5]}
          width={g.rW}
          tick={false}
          tickLine={false}
          axisLine={{ stroke: '#000', strokeWidth: 1 }}
        />
        {series.map((s, i) => (
          <Line
            key={seriesNames[i]}
            data={toRows(s)}
            dataKey="v"
            name={seriesNames[i]}
            type="linear"
            stroke={seriesColors[i]}
            strokeWidth={LINE_W}
            dot={false}
            activeDot={false}
            isAnimationActive={false}
          />
        ))}
      </LineChart>
      <div
        style={{
          position: 'absolute',
          left: legendLeft,
          top: legendTop,
          width: legendW,
          height: legendH,
          boxSizing: 'border-box',
          border: '1px solid #000',
          background: '#fff',
        }}
      >
        <svg width={legendW - 2} height={legendH - 2} style={{ display: 'block' }}>
          {seriesNames.map((n, i) => {
            const cy = 18 + i * 31.5;
            return (
              <g key={n}>
                <line x1={13} x2={45} y1={cy} y2={cy} stroke={seriesColors[i]} strokeWidth={LINE_W} />
                <text x={69} y={cy} dy="0.36em" fontSize={FS} fontFamily={FONT} fill="#000">
                  {n}
                </text>
              </g>
            );
          })}
        </svg>
      </div>
    </div>
  );
}

export default function App() {
  return (
    <div
      style={{
        position: 'absolute',
        left: 0,
        top: 0,
        width: 1067,
        height: 699,
        background: '#fff',
        fontFamily: FONT,
        overflow: 'hidden',
      }}
    >
      <style>{'.recharts-surface{overflow:visible}'}</style>
      {[0, 1, 2, 3].map((i) => (
        <Panel key={i} idx={i} />
      ))}
    </div>
  );
}
